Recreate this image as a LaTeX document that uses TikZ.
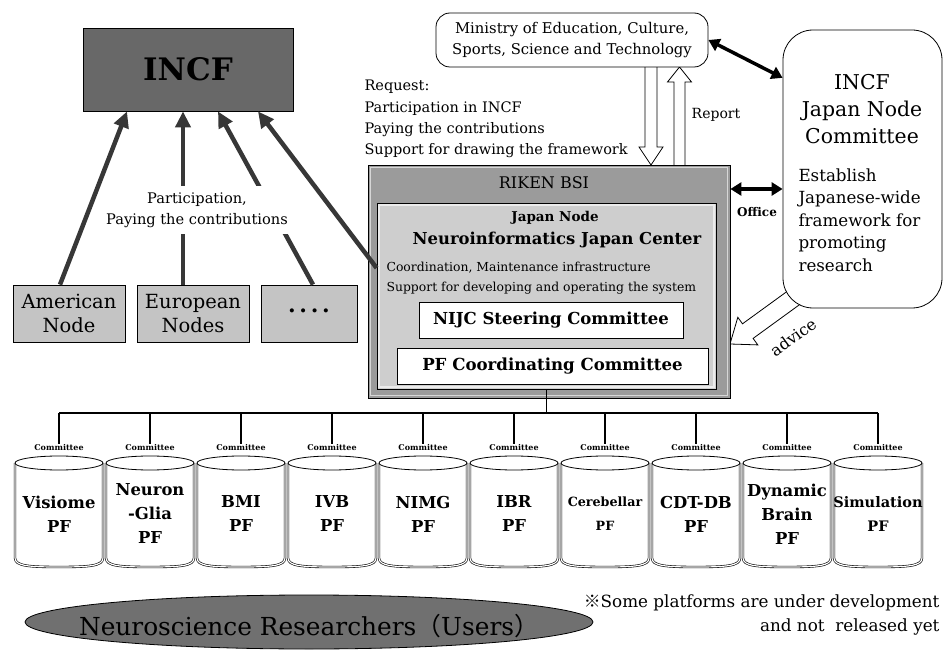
\documentclass[tikz,border=0pt]{standalone}
\usepackage{fontspec}
\setmainfont{DejaVu Serif}
\newfontfamily\cjk{Noto Sans CJK JP}
\usetikzlibrary{arrows.meta,calc,shapes.geometric}
\definecolor{darkfill}{RGB}{104,104,104}
\definecolor{usersfill}{RGB}{112,112,112}
\definecolor{midfill}{RGB}{155,155,155}
\definecolor{lightfill}{RGB}{206,206,206}
\definecolor{nodefill}{RGB}{196,196,196}
\definecolor{arrowgray}{RGB}{55,55,55}
\newcommand{\fsz}[2]{\fontsize{#1}{#2}\selectfont}
\begin{document}
\begin{tikzpicture}[x=1pt,y=-1pt,
  box/.style={draw=black,line width=0.8pt,rectangle,inner sep=0pt},
  bigarrow/.style={draw=arrowgray,line width=4.5pt,-{Triangle[width=15pt,length=16pt]}},
  dblarrow/.style={draw=black,line width=3.5pt,{Triangle[width=13pt,length=11pt]}-{Triangle[width=13pt,length=11pt]}},
  hollowarrow/.style={draw=black,line width=0.8pt,fill=white,line join=miter},
  treeline/.style={draw=black,line width=1.8pt},
  cylbody/.style={draw=black,line width=0.6pt,double=white,double distance=1.2pt,fill=white},
  bevel/.style={draw=white,opacity=0.6,line width=1.4pt}
]
\useasboundingbox (0,0) rectangle (946,650);

% ---------- INCF and member nodes ----------
\node[box,fill=darkfill,minimum width=210,minimum height=83,font=\bfseries\fsz{31}{36}] (incf) at (188,69.5) {INCF};
\node[box,fill=nodefill,minimum width=112,minimum height=57,align=center,font=\fsz{19.5}{24}] (amer) at (69,313.5) {American\\Node};
\node[box,fill=nodefill,minimum width=112,minimum height=57,align=center,font=\fsz{19.5}{24}] (euro) at (193,313.5) {European\\Nodes};
\node[box,fill=nodefill,minimum width=96,minimum height=57,font=\bfseries\fsz{22}{24}] (dots) at (309,313.5) {·\,·\,·\,·};

\draw[bigarrow] ([xshift=-9pt]amer.north) -- ([xshift=-61pt]incf.south);
\draw[bigarrow] ([xshift=-10pt]euro.north) -- ([xshift=-5pt]incf.south);
\draw[bigarrow] ([xshift=4pt]dots.north) -- ([xshift=30pt]incf.south);

\node[fill=white,inner xsep=3pt,inner ysep=7pt,align=center,font=\fsz{14.6}{21}] (partlbl) at (197,210) {Participation,\\Paying the contributions};

% ---------- advice arrow and Japan Node Committee ----------
\coordinate (advTip) at (730,344);
\draw[hollowarrow] (798.8,282.9) -- (742.5,323.8) -- (737.8,317.3) -- (advTip) -- (757.8,344.9) -- (753.1,338.4) -- (809.4,297.5);
\node[font=\fsz{16}{18},rotate=36,inner sep=1pt] (advice) at (793,337) {advice};

\node[draw=black,line width=0.8pt,rounded corners=30pt,fill=white,minimum width=159,minimum height=278] (jnc) at (862.5,169) {};
\node[align=center,font=\fsz{20.4}{27}] (jnctitle) at (862,109) {INCF\\Japan Node\\Committee};
\node[align=left,anchor=west,font=\fsz{16.7}{22.5}] (jncbody) at (795,220) {Establish\\Japanese-wide\\framework for\\promoting\\research};

% ---------- Ministry and hollow arrows ----------
\coordinate (mextpos) at (572,40);
\coordinate (dnTop) at (651,67);
\coordinate (dnTip) at (651,165);
\coordinate (upTop) at (679.5,67);
\coordinate (upBot) at (679.5,165);
\draw[hollowarrow] ($(dnTop)+(-6,0)$) -- ($(dnTip)+(-6,-18)$) -- ($(dnTip)+(-12,-18)$) -- (dnTip) -- ($(dnTip)+(12,-18)$) -- ($(dnTip)+(6,-18)$) -- ($(dnTop)+(6,0)$);
\draw[hollowarrow] ($(upBot)+(-5.5,0)$) -- ($(upTop)+(-5.5,15)$) -- ($(upTop)+(-12,15)$) -- (upTop) -- ($(upTop)+(12,15)$) -- ($(upTop)+(5.5,15)$) -- ($(upBot)+(5.5,0)$);

\node[draw=black,line width=0.8pt,rounded corners=14pt,fill=white,minimum width=272,minimum height=54,align=center,font=\fsz{14.8}{21}] (mext) at (mextpos) {Ministry of Education, Culture,\\Sports, Science and Technology};

\node[align=left,anchor=west,font=\fsz{14.5}{21.3}] (request) at (361,119) {Request:\\Participation in INCF\\Paying the contributions\\Support for drawing the framework};
\node[font=\fsz{14}{16}] (report) at (716,115) {Report};

\draw[dblarrow] (mext.east) -- ($(jnc.north west)!0.173!(jnc.south west)$);

% ---------- RIKEN BSI ----------
\node[box,fill=midfill,minimum width=362,minimum height=233] (riken) at (549,281.5) {};
\draw[bevel] ([shift={(3pt,-3pt)}]riken.north west) rectangle ([shift={(-3pt,3pt)}]riken.south east);
\node[font=\fsz{16}{18}] (rikenlbl) at (544,183) {RIKEN BSI};

\coordinate (offy) at (0,189);
\draw[dblarrow] (riken.east |- offy) -- (jnc.west |- offy);
\node[font=\bfseries\fsz{12}{16}] (office) at (757,212) {Office};

\node[box,fill=lightfill,minimum width=339,minimum height=186] (inner) at (546.5,296) {};
\draw[bevel] ([shift={(2.5pt,-2.5pt)}]inner.north west) rectangle ([shift={(-2.5pt,2.5pt)}]inner.south east);
\draw[bigarrow] ($(inner.north west)!0.35!(inner.south west)$) -- ([xshift=70pt]incf.south);

\node[font=\bfseries\fsz{13.5}{17}] (jnode) at (555,218) {Japan Node};
\node[font=\bfseries\fsz{16.4}{20}] (nijc) at (557,240) {Neuroinformatics Japan Center};
\node[align=left,anchor=west,font=\fsz{12.4}{20}] (coord) at (383,278) {Coordination, Maintenance infrastructure\\Support for developing and operating the system};
\node[box,fill=white,minimum width=264,minimum height=36,font=\bfseries\fsz{16.5}{22}] (steer) at (551,320) {NIJC Steering Committee};
\node[box,fill=white,minimum width=311,minimum height=36,font=\bfseries\fsz{16.6}{22}] (pfcc) at (552.5,366) {PF Coordinating Committee};

% ---------- platforms ----------
\coordinate (busy) at (0,413);
\foreach \i/\txt/\sz in {0/{Visiome\\PF}/16.4,1/{Neuron\\-Glia\\PF}/16.4,2/{BMI\\PF}/16.4,3/{IVB\\PF}/16.4,4/{NIMG\\PF}/16.4,5/{IBR\\PF}/16.4,6/{Cerebellar\\PF}/12.7,7/{CDT-DB\\PF}/16.4,8/{Dynamic\\Brain\\PF}/16.4,9/{Simulation\\PF}/14.5}{
  \pgfmathsetmacro{\cx}{59+91*\i}
  \draw[cylbody] (\cx-44,463) -- (\cx-44,558) .. controls (\cx-44,566) and (\cx-30,567) .. (\cx,567) .. controls (\cx+30,567) and (\cx+44,566) .. (\cx+44,558) -- (\cx+44,463);
  \draw[line width=0.8pt,fill=white] (\cx,463) ellipse [x radius=44, y radius=7];
  \node[font=\bfseries\fsz{\sz}{24},align=center] (pf\i) at (\cx,514) {\txt};
  \node[font=\bfseries\fsz{8}{10},inner sep=1pt] (com\i) at (\cx,448) {Committee};
  \draw[treeline] (com\i.north |- busy) -- (com\i.north);
}
\draw[treeline] (com0.north |- busy) -- (com9.north |- busy);
\draw[treeline] (inner.south) -- (inner.south |- busy);

% ---------- users ----------
\node[ellipse,draw=black,line width=0.8pt,fill=usersfill,minimum width=568,minimum height=54] (users) at (309,622) {};
\node[font=\fsz{24.8}{30}] (userslbl) at (309,626) {Neuroscience Researchers{\cjk （}Users{\cjk ）}};

\node[align=right,anchor=east,font=\fsz{16.8}{24}] (note) at (943,615) {{\cjk ※}Some platforms are under development\\and not\ \ released yet};
\end{tikzpicture}
\end{document}
